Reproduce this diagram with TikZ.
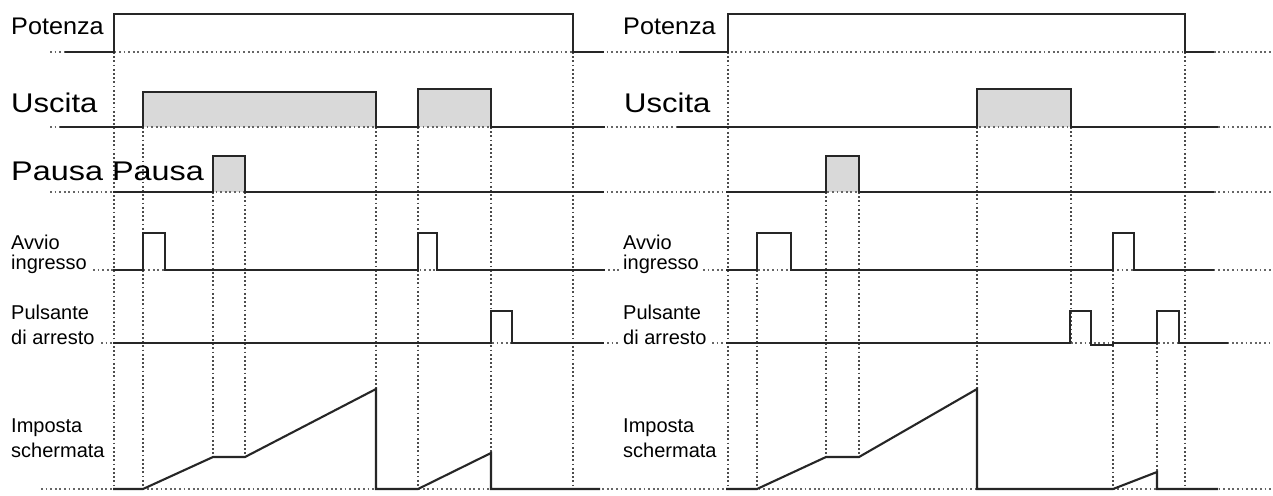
\documentclass[tikz,border=0pt]{standalone}
\usepackage{fontspec}
\usepackage{graphicx}
\setmainfont{Liberation Sans}
\begin{document}
\begin{tikzpicture}[x=1pt,y=-1pt,
  wave/.style={line width=2.1pt, black!85, line join=miter},
  hdot/.style={line width=1.8pt, black!60, dash pattern=on 1.8pt off 2.8pt},
  vdot/.style={line width=1.9pt, black!70, dash pattern=on 1.8pt off 2.4pt},
  pfill/.style={fill=black!15},
  biglab/.style={anchor=base west, inner sep=0pt, font=\fontsize{27}{30}\selectfont},
  midlab/.style={anchor=base west, inner sep=0pt, font=\fontsize{24}{28}\selectfont},
  smalllab/.style={anchor=base west, inner sep=0pt, font=\fontsize{20}{24}\selectfont}]
\useasboundingbox (0,0) rectangle (1273,495);
\fill[white] (0,0) rectangle (1273,495);

% gray fills
\fill[pfill] (143,127) rectangle (376,92);
\fill[pfill] (418,127) rectangle (491,89);
\fill[pfill] (213,192) rectangle (245,156);
\fill[pfill] (977,127) rectangle (1071,89);
\fill[pfill] (826,192) rectangle (859,156);

% horizontal dotted baselines
\draw[hdot] (50,52) -- (1273,52);
\draw[hdot] (50,127) -- (1273,127);
\draw[hdot] (50,192) -- (1273,192);
\draw[hdot] (93,270) -- (620,270);
\draw[hdot] (703,270) -- (1273,270);
\draw[hdot] (101,343) -- (620,343);
\draw[hdot] (712,343) -- (1273,343);
\draw[hdot] (41,489) -- (1273,489);

% vertical dotted lines, left
\draw[vdot] (114,52) -- (114,489);
\draw[vdot] (143,127) -- (143,489);
\draw[vdot] (213,192) -- (213,457);
\draw[vdot] (245,192) -- (245,457);
\draw[vdot] (376,127) -- (376,389);
\draw[vdot] (418,127) -- (418,489);
\draw[vdot] (491,127) -- (491,453);
\draw[vdot] (573,52) -- (573,489);
% vertical dotted lines, right
\draw[vdot] (728,52) -- (728,489);
\draw[vdot] (757,270) -- (757,489);
\draw[vdot] (826,192) -- (826,457);
\draw[vdot] (859,192) -- (859,457);
\draw[vdot] (977,127) -- (977,389);
\draw[vdot] (1071,127) -- (1071,343);
\draw[vdot] (1113,270) -- (1113,489);
\draw[vdot] (1157,343) -- (1157,472);
\draw[vdot] (1185,52) -- (1185,489);

% waveforms, left
\draw[wave] (65,52) -- (114,52) -- (114,14) -- (573,14) -- (573,52) -- (604,52);
\draw[wave] (60,127) -- (143,127) -- (143,92) -- (376,92) -- (376,127) -- (418,127) -- (418,89) -- (491,89) -- (491,127) -- (605,127);
\draw[wave] (113,192) -- (213,192) -- (213,156) -- (245,156) -- (245,192) -- (604,192);
\draw[wave] (113,270) -- (143,270) -- (143,233) -- (165,233) -- (165,270) -- (418,270) -- (418,233) -- (437,233) -- (437,270) -- (605,270);
\draw[wave] (113,343) -- (491,343) -- (491,311) -- (512,311) -- (512,343) -- (604,343);
\draw[wave] (113,489) -- (143,489) -- (213,457) -- (245,457) -- (376,389) -- (376,489) -- (418,489) -- (491,453) -- (491,489) -- (600,489);

% waveforms, right
\draw[wave] (679,52) -- (728,52) -- (728,14) -- (1185,14) -- (1185,52) -- (1214,52);
\draw[wave] (677,127) -- (977,127) -- (977,89) -- (1071,89) -- (1071,127) -- (1218,127);
\draw[wave] (726,192) -- (826,192) -- (826,156) -- (859,156) -- (859,192) -- (1214,192);
\draw[wave] (726,270) -- (757,270) -- (757,233) -- (791,233) -- (791,270) -- (1113,270) -- (1113,233) -- (1134,233) -- (1134,270) -- (1214,270);
\draw[wave] (726,343) -- (1070,343) -- (1070,311) -- (1091,311) -- (1091,345) -- (1113,345) -- (1113,343) -- (1157,343) -- (1157,311) -- (1179,311) -- (1179,343) -- (1228,343);
\draw[wave] (726,489) -- (757,489) -- (826,457) -- (859,457) -- (977,389) -- (977,489) -- (1113,489) -- (1157,472) -- (1157,489) -- (1218,489);

% labels, left
\node[midlab] (potL) at (11,35) {\scalebox{1.05}[1]{Potenza}};
\node[biglab] (uscL) at (11,112) {\scalebox{1.15}[1]{Uscita}};
\node[biglab] (pauL) at (11,180) {\scalebox{1.2}[1]{Pausa Pausa}};
\node[smalllab] (avL1) at (11,249) {Avvio};
\node[smalllab] (avL2) at (11,269) {ingresso};
\node[smalllab] (puL1) at (11,319) {Pulsante};
\node[smalllab] (puL2) at (11,344) {di arresto};
\node[smalllab] (imL1) at (11,432) {Imposta};
\node[smalllab] (imL2) at (11,457) {schermata};
% labels, right
\node[midlab] (potR) at (623,35) {\scalebox{1.05}[1]{Potenza}};
\node[biglab] (uscR) at (624,112) {\scalebox{1.15}[1]{Uscita}};
\node[smalllab] (avR1) at (623,249) {Avvio};
\node[smalllab] (avR2) at (623,269) {ingresso};
\node[smalllab] (puR1) at (623,319) {Pulsante};
\node[smalllab] (puR2) at (623,344) {di arresto};
\node[smalllab] (imR1) at (623,432) {Imposta};
\node[smalllab] (imR2) at (623,457) {schermata};
\end{tikzpicture}
\end{document}
